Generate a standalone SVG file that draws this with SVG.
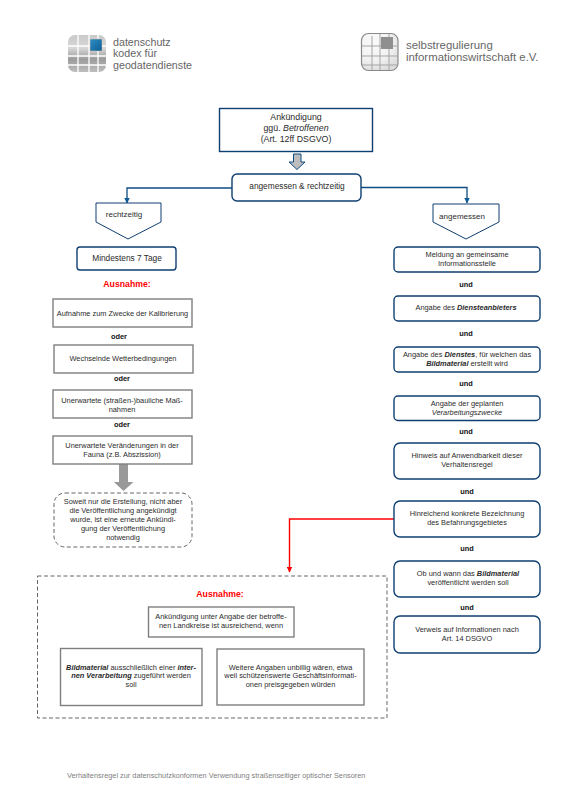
<svg xmlns="http://www.w3.org/2000/svg" width="576" height="808" viewBox="0 0 576 808">
<style>
text{font-family:"Liberation Sans",Arial,sans-serif;fill:#2b2b2b;text-anchor:middle}
.s{font-size:7.4px}.m{font-size:8.8px}.n{font-size:8.300px}
.b{font-weight:700;fill:#111}
.t{font-size:8px}
.r{font-size:8.700px;fill:#f00;font-weight:700}
.blue{fill:#fff;stroke:#0f3f70;stroke-width:1.4}
.gray{fill:#fff;stroke:#7f7f7f;stroke-width:1.4}
.dash{fill:#fff;stroke:#666;stroke-width:1;stroke-dasharray:4 2.5}
.conn{fill:none;stroke:#0f4c81;stroke-width:1.3}
.logo{font-size:10.700px;fill:#666;text-anchor:start}
.grid{stroke:#fff;stroke-width:1.3;fill:none}
</style>
<defs>
<linearGradient id="lg" x1="0" y1="0" x2="0" y2="1"><stop offset="0" stop-color="#c9c9c9"/><stop offset=".35" stop-color="#d8d8d8"/><stop offset=".65" stop-color="#9c9c9c"/><stop offset="1" stop-color="#bdbdbd"/></linearGradient>
<radialGradient id="lg2" cx=".35" cy=".25" r=".8"><stop offset="0" stop-color="#fafafa"/><stop offset=".6" stop-color="#f2f2f2"/><stop offset="1" stop-color="#dcdcdc"/></radialGradient>
<linearGradient id="bl" x1="0" y1="0" x2="1" y2="1"><stop offset="0" stop-color="#2f8fc4"/><stop offset="1" stop-color="#0d5c94"/></linearGradient>
<marker id="ab" markerUnits="userSpaceOnUse" markerWidth="6" markerHeight="6" refX="5.5" refY="3" orient="auto"><path d="M0 0L6 3L0 6z" fill="#0f5a94"/></marker>
<marker id="ar" markerUnits="userSpaceOnUse" markerWidth="6" markerHeight="6" refX="5.5" refY="3" orient="auto"><path d="M0 0L6 3L0 6z" fill="#f00"/></marker>
</defs>
<rect width="576" height="808" fill="#fff"/>
<g id="logo-left">
<rect x="68" y="35" width="38" height="37" rx="7" fill="url(#lg)"/>
<path class="grid" d="M78 35V72M89 35V72M98 35V72M68 46H106M68 56H106M68 65H106"/>
<rect x="90" y="39" width="12" height="12" fill="url(#bl)" stroke="#e8c8b0" stroke-width=".5"/>
<text class="logo" x="113" y="45.500">datenschutz</text>
<text class="logo" x="113" y="57">kodex für</text>
<text class="logo" x="113" y="68.500">geodatendienste</text>
</g>
<g id="logo-right">
<rect x="361.500" y="33.500" width="36.500" height="37" rx="7" fill="url(#lg2)" stroke="#8a8a8a" stroke-width="1.200"/>
<path d="M372 36V70M380 34V70M389 34V70M362 46H398M362 56H398M362 65H398" fill="none" stroke="#a5a5a5" stroke-width="1"/>
<rect x="381" y="37" width="12" height="12" fill="#8f8f8f"/>
<text class="logo" style="font-size:11.400px" x="406" y="49">selbstregulierung</text>
<text class="logo" style="font-size:11.400px" x="406" y="61">informationswirtschaft e.V.</text>
</g>
<g id="connectors">
<path class="conn" d="M232 188H127V203" marker-end="url(#ab)"/>
<path class="conn" d="M361 187.500H467V203" marker-end="url(#ab)"/>
<path d="M394 519H289.500V572" fill="none" stroke="#f00" stroke-width="1.400" marker-end="url(#ar)"/>
<path d="M293.500 154H301V162H305L297 169.500L289 162H293.500Z" fill="#bdbdbd" stroke="#0f4c81" stroke-width="1"/>
<path d="M119 464H128V482H133.500L123.500 491L114 482H119Z" fill="#999"/>
</g>
<g id="n-ankuendigung"><rect class="blue" x="219.500" y="108.500" width="153" height="43"/>
<text class="m" x="296" y="120">Ankündigung</text>
<text class="m" x="296" y="131">ggü. <tspan font-style="italic">Betroffenen</tspan></text>
<text class="m" x="296" y="142">(Art. 12ff DSGVO)</text></g>
<g id="n-angemessen-rechtzeitig"><rect class="blue" x="232" y="174" width="129" height="27" rx="5"/>
<text class="n" x="297" y="189">angemessen &amp; rechtzeitig</text></g>
<g id="n-rechtzeitig"><path class="blue" style="stroke-width:1" d="M96 203H161V222L128 239L96 222Z"/>
<text class="t" x="124" y="217">rechtzeitig</text></g>
<g id="n-angemessen"><path class="blue" style="stroke-width:1" d="M433 204H499V222L466 239L433 222Z"/>
<text class="t" x="462" y="219">angemessen</text></g>
<g id="n-mindestens"><rect class="blue" x="77" y="247" width="99" height="23" rx="3"/>
<text class="n" x="127" y="261">Mindestens 7 Tage</text></g>

<text class="r" x="127" y="286.500">Ausnahme:</text>
<g id="n-kalibrierung"><rect class="gray" x="53" y="299" width="139" height="28"/>
<text class="s" x="122.500" y="316">Aufnahme zum Zwecke der Kalibrierung</text></g>
<text class="s b" x="119" y="338.500">oder</text>
<g id="n-wetter"><rect class="gray" x="54" y="345" width="139" height="28"/>
<text class="s" x="123" y="361">Wechselnde Wetterbedingungen</text></g>
<text class="s b" x="122" y="380.500">oder</text>
<g id="n-baulich"><rect class="gray" x="53" y="390" width="139" height="28"/>
<text class="s" x="122" y="402.500">Unerwartete (straßen-)bauliche Maß-</text>
<text class="s" x="122" y="411.500">nahmen</text></g>
<text class="s b" x="122" y="426.500">oder</text>
<g id="n-fauna"><rect class="gray" x="53" y="436" width="139" height="28"/>
<text class="s" x="122" y="448">Unerwartete Veränderungen in der</text>
<text class="s" x="122" y="457">Fauna (z.B. Abszission)</text></g>
<g id="n-soweit"><rect class="dash" x="54" y="493" width="138" height="54" rx="11"/>
<text class="s" x="123" y="503.500">Soweit nur die Erstellung, nicht aber</text>
<text class="s" x="123" y="512.500">die Veröffentlichung angekündigt</text>
<text class="s" x="123" y="521.500">wurde, ist eine erneute Ankündi-</text>
<text class="s" x="123" y="530.500">gung der Veröffentlichung</text>
<text class="s" x="123" y="539.500">notwendig</text></g>

<g id="n-meldung"><rect class="blue" x="394" y="247" width="146" height="25" rx="4"/>
<text class="s" x="467" y="256.500">Meldung an gemeinsame</text>
<text class="s" x="467" y="265.500">Informationsstelle</text></g>
<text class="s b" x="466" y="286.500">und</text>
<g id="n-diensteanbieter"><rect class="blue" x="394" y="296" width="146" height="25" rx="4"/>
<text class="s" x="466" y="310">Angabe des <tspan font-style="italic" font-weight="700">Diensteanbieters</tspan></text></g>
<text class="s b" x="466" y="336">und</text>
<g id="n-dienst"><rect class="blue" x="394" y="347" width="146" height="25" rx="4"/>
<text class="s" x="467" y="356.500">Angabe des <tspan font-style="italic" font-weight="700">Dienstes</tspan>, für welchen das</text>
<text class="s" x="467" y="365.500"><tspan font-style="italic" font-weight="700">Bildmaterial</tspan> erstellt wird</text></g>
<text class="s b" x="466" y="385.500">und</text>
<g id="n-zwecke"><rect class="blue" x="394" y="396" width="146" height="24.500" rx="4"/>
<text class="s" x="467" y="405.500">Angabe der geplanten</text>
<text class="s" x="467" y="414.500"><tspan font-style="italic">Verarbeitungszwecke</tspan></text></g>
<text class="s b" x="466" y="433.500">und</text>
<g id="n-hinweis"><rect class="blue" x="394" y="443" width="146" height="36" rx="6"/>
<text class="s" x="467" y="457.500">Hinweis auf Anwendbarkeit dieser</text>
<text class="s" x="467" y="466.500">Verhaltensregel</text></g>
<text class="s b" x="467" y="493.500">und</text>
<g id="n-befahrung"><rect class="blue" x="394" y="501" width="146" height="36" rx="6"/>
<text class="s" x="467" y="516">Hinreichend konkrete Bezeichnung</text>
<text class="s" x="467" y="525">des Befahrungsgebietes</text></g>
<text class="s b" x="467" y="550.500">und</text>
<g id="n-ob"><rect class="blue" x="394" y="561" width="146" height="36" rx="6"/>
<text class="s" x="468" y="576">Ob und wann das <tspan font-style="italic" font-weight="700">Bildmaterial</tspan></text>
<text class="s" x="468" y="585">veröffentlicht werden soll</text></g>
<text class="s b" x="467" y="610">und</text>
<g id="n-verweis"><rect class="blue" x="394" y="616" width="146" height="37" rx="6"/>
<text class="s" x="467" y="631.500">Verweis auf Informationen nach</text>
<text class="s" x="467" y="640.500">Art. 14 DSGVO</text></g>

<g id="n-ausnahme"><rect class="dash" x="37.500" y="576" width="349.500" height="142"/>
<text class="r" x="220" y="597">Ausnahme:</text></g>
<g id="n-landkreise"><rect class="gray" x="148.500" y="607" width="145.500" height="30"/>
<text class="s" x="221" y="619">Ankündigung unter Angabe der betroffe-</text>
<text class="s" x="221" y="628">nen Landkreise ist ausreichend, wenn</text></g>
<g id="n-intern"><rect class="gray" x="60.500" y="648.500" width="141.500" height="57"/>
<text class="s" x="131" y="669.500"><tspan font-style="italic" font-weight="700">Bildmaterial</tspan> ausschließlich einer <tspan font-style="italic" font-weight="700">inter-</tspan></text>
<text class="s" x="131" y="678"><tspan font-style="italic" font-weight="700">nen Verarbeitung</tspan> zugeführt werden</text>
<text class="s" x="131" y="687">soll</text></g>
<g id="n-weitere"><rect class="gray" x="217" y="649" width="147" height="56"/>
<text class="s" x="290.500" y="669.500">Weitere Angaben unbillig wären, etwa</text>
<text class="s" x="290.500" y="678">weil schützenswerte Geschäftsinformati-</text>
<text class="s" x="290.500" y="687">onen preisgegeben würden</text></g>
<text x="67" y="777.500" style="font-size:7.350px;text-anchor:start;fill:#808080">Verhaltensregel zur datenschutzkonformen Verwendung straßenseitiger optischer Sensoren</text>
</svg>
